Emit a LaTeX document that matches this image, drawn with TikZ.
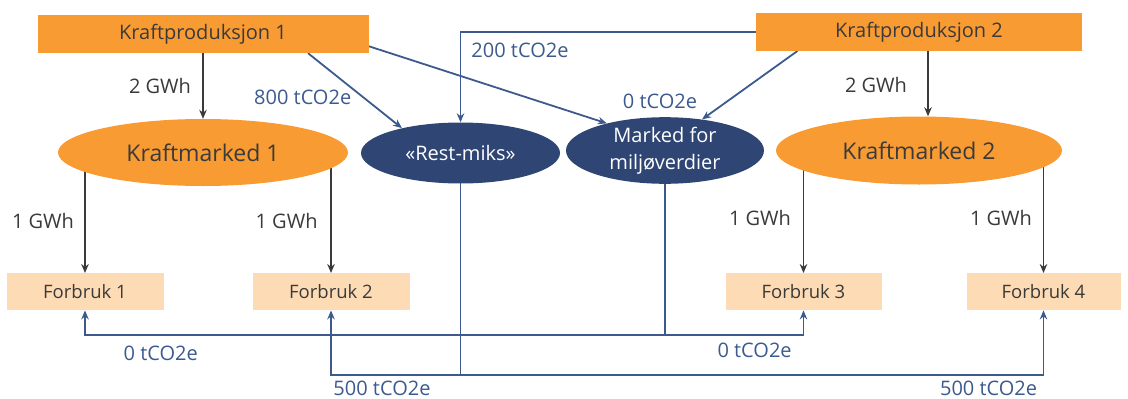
\documentclass[tikz,border=0pt]{standalone}
\usepackage{fontspec}
\setmainfont{Open Sans}
\usetikzlibrary{shapes.geometric,arrows.meta,calc,backgrounds}
\definecolor{orng}{HTML}{F99B33}
\definecolor{peach}{HTML}{FDDBB4}
\definecolor{navy}{HTML}{2F4674}
\definecolor{lblue}{HTML}{3C5A8E}
\definecolor{dtext}{HTML}{3A3A3A}
\begin{document}
\begin{tikzpicture}[x=1pt,y=-1pt,
  prodbox/.style={rectangle,fill=orng,minimum width=331pt,minimum height=38pt,inner sep=0pt,text=dtext,font=\fontsize{20}{24}\selectfont},
  mktell/.style={ellipse,fill=orng,inner sep=0pt,text=dtext,font=\fontsize{23}{27}\selectfont},
  navyell/.style={ellipse,fill=navy,inner sep=0pt,text=white,font=\fontsize{20}{27}\selectfont,align=center},
  usebox/.style={rectangle,fill=peach,minimum width=157pt,minimum height=37pt,inner sep=0pt,text=dtext,font=\fontsize{18.5}{22}\selectfont},
  powerarrow/.style={draw=dtext,line width=1.8pt,-{Stealth[length=9pt,width=7.5pt]}},
  co2arrow/.style={draw=lblue,line width=1.8pt,-{Stealth[length=9pt,width=7.5pt]}},
  co2line/.style={draw=lblue,line width=1.8pt},
  lab/.style={text=dtext,font=\fontsize{20}{24}\selectfont,inner sep=0pt},
  co2lab/.style={text=lblue,font=\fontsize{20}{24}\selectfont,inner sep=0pt},
]
\useasboundingbox (0,0) rectangle (1128,399);

% nodes
\node[prodbox] (kp1) at (203,34) {Kraftproduksjon 1};
\node[prodbox,minimum width=326pt,minimum height=37.5pt] (kp2) at (919,32) {Kraftproduksjon 2};
\node[mktell,minimum width=290pt,minimum height=67pt] (km1) at (203,152.5) {Kraftmarked 1};
\node[mktell,minimum width=286pt,minimum height=68pt] (km2) at (919,150.5) {Kraftmarked 2};
\node[navyell,minimum width=199pt,minimum height=61pt] (rest) at (460.5,153) {«Rest-miks»};
\node[navyell,minimum width=198pt,minimum height=65pt] (marked) at (665,150.5) {Marked for\\miljøverdier};
\node[usebox] (f1) at (85,291.7) {Forbruk 1};
\node[usebox] (f2) at (331,291.7) {Forbruk 2};
\node[usebox,minimum width=156pt] (f3) at (803.5,291.7) {Forbruk 3};
\node[usebox,minimum width=154pt] (f4) at (1043.5,291.7) {Forbruk 4};

% labels
\node[lab] (l2a) at (160,86) {2 GWh};
\node[lab] (l2b) at (876,85) {2 GWh};
\node[lab] (l1a) at (43,220.7) {1 GWh};
\node[lab] (l1b) at (286.6,220.7) {1 GWh};
\node[lab] (l1c) at (760,218.3) {1 GWh};
\node[lab] (l1d) at (1001,218.3) {1 GWh};
\node[co2lab] (c800) at (302.7,97) {800 tCO2e};
\node[co2lab] (c200) at (520,50) {200 tCO2e};
\node[co2lab] (c0a) at (660,101.7) {0 tCO2e};
\node[co2lab] (c0b) at (160.7,353.3) {0 tCO2e};
\node[co2lab] (c0c) at (754.6,350) {0 tCO2e};
\node[co2lab] (c500a) at (382,388) {500 tCO2e};
\node[co2lab] (c500b) at (988.6,388) {500 tCO2e};

\coordinate (j200) at (460.5,32);
\coordinate (jzero) at (665,335);
\coordinate (jfive) at (460.5,375);

\begin{pgfonlayer}{background}
% power flows
\draw[powerarrow] (kp1.south) -- (km1.north);
\draw[powerarrow] ($(kp2.south)+(9,0)$) coordinate (p2) -- (p2 |- km2.north);
\draw[powerarrow] (km1.center -| f1) -- (f1.north);
\draw[powerarrow] (km1.center -| f2) -- (f2.north);
\draw[powerarrow] (km2.center -| f3) -- (f3.north);
\draw[powerarrow] (km2.center -| f4) -- (f4.north);
% emission flows
\draw[co2arrow] ($(kp1.south)+(105,0)$) -- (rest.157.6);
\draw[co2arrow] ($(kp1.south east)+(0,-7)$) -- (marked.155);
\draw[co2arrow] (kp2.west) -- (j200) -- (rest.north);
\draw[co2arrow] ($(kp2.south)+(-121.5,0)$) -- (marked.40);
\draw[co2line] (marked.center) -- (jzero);
\draw[co2arrow] (jzero) -| (f1.south);
\draw[co2arrow] (jzero) -| (f3.south);
\draw[co2line] (rest.center) -- (jfive);
\draw[co2arrow] (jfive) -| (f2.south);
\draw[co2arrow] (jfive) -| (f4.south);
\end{pgfonlayer}
\end{tikzpicture}
\end{document}
